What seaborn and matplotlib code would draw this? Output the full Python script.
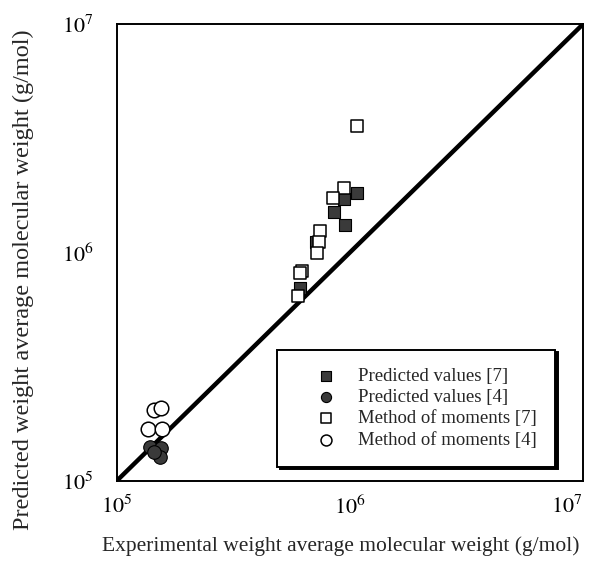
import numpy as np
import pandas as pd
import matplotlib
matplotlib.use("Agg")
import matplotlib.pyplot as plt
import seaborn as sns
from matplotlib.ticker import LogLocator, NullFormatter

# ---- data ----
pv7_x = [1.07e6, 9.42e5, 8.53e5, 9.52e5, 7.14e5, 6.09e5]
pv7_y = [1.82e6, 1.71e6, 1.50e6, 1.32e6, 1.11e6, 7.00e5]

pv4_x = [1.39e5, 1.55e5, 1.53e5, 1.44e5]
pv4_y = [1.41e5, 1.39e5, 1.27e5, 1.34e5]

mm7_x = [1.07e6, 9.42e5, 8.45e5, 7.43e5, 7.36e5, 7.21e5, 6.22e5, 6.09e5, 5.99e5]
mm7_y = [3.58e6, 1.92e6, 1.73e6, 1.24e6, 1.11e6, 1.00e6, 8.29e5, 8.13e5, 6.46e5]

mm4_x = [1.44e5, 1.55e5, 1.36e5, 1.56e5]
mm4_y = [2.05e5, 2.08e5, 1.69e5, 1.69e5]

diag = [1e5, 1e7]
major_ticks = [1e5, 1e6, 1e7]
tick_labels = [r"$10^5$", r"$10^6$", r"$10^7$"]

labels = ["Predicted values [7]", "Predicted values [4]",
          "Method of moments [7]", "Method of moments [4]"]
x_label = "Experimental weight average molecular weight (g/mol)"
y_label = "Predicted weight average molecular weight (g/mol)"

# ---- style ----
sns.set_style("white")
plt.rcParams["font.family"] = ["Liberation Serif", "DejaVu Serif"]
plt.rcParams["mathtext.fontset"] = "stix"

fig = plt.figure(figsize=(5.9, 5.63), dpi=100)
ax = fig.add_axes([0.198, 0.146, 0.79, 0.811])

sns.lineplot(x=diag, y=diag, ax=ax, color="black", linewidth=3.2, zorder=1)

sns.scatterplot(x=pv7_x, y=pv7_y, ax=ax, marker="s", s=75, color="#3a3a3a",
                edgecolor="black", linewidth=0.8, label=labels[0], zorder=3)
sns.scatterplot(x=pv4_x, y=pv4_y, ax=ax, marker="o", s=95, color="#3a3a3a",
                edgecolor="black", linewidth=0.8, label=labels[1], zorder=3)
sns.scatterplot(x=mm7_x, y=mm7_y, ax=ax, marker="s", s=75, color="white",
                edgecolor="black", linewidth=1.1, label=labels[2], zorder=4)
sns.scatterplot(x=mm4_x, y=mm4_y, ax=ax, marker="o", s=110, color="white",
                edgecolor="black", linewidth=1.1, label=labels[3], zorder=4)

ax.set_xscale("log")
ax.set_yscale("log")
ax.set_xlim(1e5, 1e7)
ax.set_ylim(1e5, 1e7)

for sp in ax.spines.values():
    sp.set_color("black")
    sp.set_linewidth(1.4)

ax.set_xticks(major_ticks)
ax.set_yticks(major_ticks)
ax.set_xticklabels(tick_labels)
ax.set_yticklabels(tick_labels)
ax.xaxis.set_minor_locator(LogLocator(base=10, subs=np.arange(2, 10), numticks=20))
ax.yaxis.set_minor_locator(LogLocator(base=10, subs=np.arange(2, 10), numticks=20))
ax.xaxis.set_minor_formatter(NullFormatter())
ax.yaxis.set_minor_formatter(NullFormatter())
ax.tick_params(which="major", direction="inout", length=9, width=1.3,
               labelsize=16, colors="black")
ax.tick_params(axis="x", which="major", pad=6)
ax.tick_params(axis="y", which="major", pad=12)
ax.tick_params(which="minor", direction="in", length=5, width=1.1, colors="black")
ax.tick_params(top=False, right=False, which="both")

ax.get_xticklabels()[-1].set_horizontalalignment("right")

ax.set_xlabel(x_label, fontsize=15.5)
ax.set_ylabel(y_label, fontsize=17.5)
ax.xaxis.set_label_coords(0.48, -0.122)
ax.yaxis.set_label_coords(-0.178, 0.44)

leg = ax.legend(loc="lower right", bbox_to_anchor=(0.94, 0.031), fontsize=13.5,
                frameon=True, fancybox=False, shadow={"color": "black", "alpha": 1},
                edgecolor="black", labelspacing=0.23, handlelength=3.3,
                handletextpad=0.1, borderpad=0.95, borderaxespad=0,
                markerscale=0.75)
leg.get_frame().set_linewidth(1.4)
leg.get_frame().set_alpha(1)

fig.savefig("out.png", dpi=100)
